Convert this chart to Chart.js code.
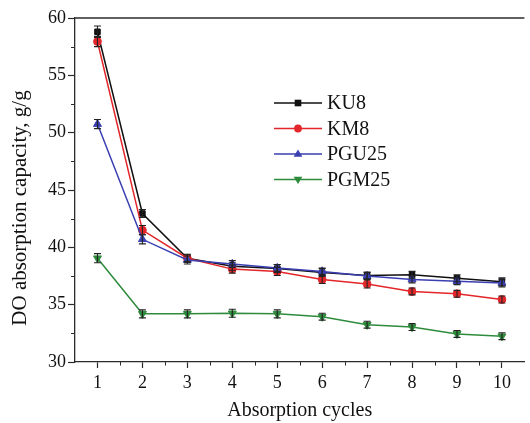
<!DOCTYPE html>
<html>
<head>
<meta charset="utf-8">
<script src="https://cdn.jsdelivr.net/npm/chart.js@4/dist/chart.umd.min.js"></script>
<style>
  html, body { margin: 0; padding: 0; background: #ffffff; }
  #wrap { width: 530px; height: 423px; }
</style>
</head>
<body>
<div id="wrap"><canvas id="c" width="530" height="423"></canvas></div>
<script>
// ---- data ----
const cycles = [1, 2, 3, 4, 5, 6, 7, 8, 9, 10];
const seriesNames = ["KU8", "KM8", "PGU25", "PGM25"];
const ku8   = [58.8, 42.95, 39.05, 38.35, 38.15, 37.8, 37.55, 37.6, 37.3, 37.0];
const km8   = [57.95, 41.5, 39.05, 38.1, 37.9, 37.2, 36.8, 36.15, 35.95, 35.45];
const pgu25 = [50.75, 40.7, 38.9, 38.55, 38.2, 37.9, 37.5, 37.2, 37.05, 36.9];
const pgm25 = [39.05, 34.2, 34.2, 34.25, 34.2, 33.95, 33.25, 33.05, 32.45, 32.25];
const ku8Err   = [0.5, 0.35, 0.3, 0.35, 0.35, 0.35, 0.3, 0.3, 0.3, 0.35];
const km8Err   = [0.45, 0.4, 0.35, 0.35, 0.35, 0.35, 0.35, 0.3, 0.3, 0.3];
const pgu25Err = [0.4, 0.4, 0.35, 0.3, 0.3, 0.3, 0.3, 0.3, 0.3, 0.35];
const pgm25Err = [0.4, 0.35, 0.35, 0.35, 0.35, 0.3, 0.3, 0.3, 0.3, 0.3];
const xTickValues = [1, 2, 3, 4, 5, 6, 7, 8, 9, 10];
const xMinorValues = [1.5, 2.5, 3.5, 4.5, 5.5, 6.5, 7.5, 8.5, 9.5];
const yMinorValues = [32.5, 37.5, 42.5, 47.5, 52.5, 57.5];
const xTitle = "Absorption cycles";
const yTitle = "DO absorption capacity, g/g";

const SERIF = '"Liberation Serif", "Times New Roman", serif';
const AXIS_COLOR = '#2b2b2b';
const TEXT_COLOR = '#111111';

function pts(vals) { return cycles.map((c, i) => ({ x: c, y: vals[i] })); }

const styles = [
  { color: '#111111', pointStyle: 'rect', rotation: 0, radius: 3.9, order: 4 },
  { color: '#e3262a', pointStyle: 'circle', rotation: 0, radius: 3.9, order: 3 },
  { color: '#3a3fb2', pointStyle: 'triangle', rotation: 0, radius: 4.6, order: 2 },
  { color: '#2e8b3c', pointStyle: 'triangle', rotation: 180, radius: 4.6, order: 1 }
];
const values = [ku8, km8, pgu25, pgm25];
const errors = [ku8Err, km8Err, pgu25Err, pgm25Err];

const datasets = seriesNames.map((name, i) => ({
  label: name,
  data: pts(values[i]),
  borderColor: styles[i].color,
  backgroundColor: styles[i].color,
  pointBackgroundColor: styles[i].color,
  pointBorderColor: styles[i].color,
  pointStyle: styles[i].pointStyle,
  pointRotation: styles[i].rotation,
  pointRadius: styles[i].radius,
  pointBorderWidth: 1,
  borderWidth: 1.5,
  tension: 0,
  fill: false,
  order: styles[i].order,
  errorBars: errors[i]
}));

function drawMarker(ctx, style, x, y, r, color) {
  ctx.save();
  ctx.fillStyle = color;
  ctx.strokeStyle = color;
  ctx.beginPath();
  if (style === 'rect') {
    ctx.rect(x - r * 0.85, y - r * 0.85, r * 1.7, r * 1.7);
  } else if (style === 'circle') {
    ctx.arc(x, y, r, 0, Math.PI * 2);
  } else if (style === 'triangle-up') {
    ctx.moveTo(x, y - r);
    ctx.lineTo(x + r * 0.95, y + r * 0.6);
    ctx.lineTo(x - r * 0.95, y + r * 0.6);
    ctx.closePath();
  } else {
    ctx.moveTo(x, y + r);
    ctx.lineTo(x + r * 0.95, y - r * 0.6);
    ctx.lineTo(x - r * 0.95, y - r * 0.6);
    ctx.closePath();
  }
  ctx.fill();
  ctx.restore();
}

const errorBarPlugin = {
  id: 'errorBars',
  afterDatasetsDraw(chart) {
    const ctx = chart.ctx;
    const xs = chart.scales.x, ys = chart.scales.y;
    ctx.save();
    ctx.strokeStyle = '#222222';
    ctx.lineWidth = 1.1;
    chart.data.datasets.forEach((ds) => {
      ds.data.forEach((p, j) => {
        const e = ds.errorBars[j];
        const px = xs.getPixelForValue(p.x);
        const top = ys.getPixelForValue(p.y + e);
        const bot = ys.getPixelForValue(p.y - e);
        ctx.beginPath();
        ctx.moveTo(px, top); ctx.lineTo(px, bot);
        ctx.moveTo(px - 3.5, top); ctx.lineTo(px + 3.5, top);
        ctx.moveTo(px - 3.5, bot); ctx.lineTo(px + 3.5, bot);
        ctx.stroke();
      });
    });
    ctx.restore();
  }
};

const framePlugin = {
  id: 'frame',
  afterDraw(chart) {
    const ctx = chart.ctx;
    const a = chart.chartArea;
    const xs = chart.scales.x, ys = chart.scales.y;
    ctx.save();
    ctx.strokeStyle = AXIS_COLOR;
    ctx.lineWidth = 1.3;
    // top frame line
    ctx.beginPath();
    ctx.moveTo(a.left, a.top);
    ctx.lineTo(a.right, a.top);
    ctx.stroke();
    // minor ticks
    ctx.lineWidth = 1;
    ctx.beginPath();
    xMinorValues.forEach(v => {
      const px = Math.round(xs.getPixelForValue(v)) + 0.5;
      ctx.moveTo(px, a.bottom); ctx.lineTo(px, a.bottom + 3.5);
    });
    yMinorValues.forEach(v => {
      const py = Math.round(ys.getPixelForValue(v)) + 0.5;
      ctx.moveTo(a.left, py); ctx.lineTo(a.left - 4, py);
    });
    ctx.stroke();
    // y title
    ctx.fillStyle = TEXT_COLOR;
    ctx.font = '21px ' + SERIF;
    ctx.textAlign = 'center';
    ctx.textBaseline = 'middle';
    ctx.translate(20, 208);
    ctx.rotate(-Math.PI / 2);
    ctx.fillText(yTitle, 0, 0);
    ctx.restore();

    // legend
    ctx.save();
    const lx0 = 274, lx1 = 322, mx = 298, tx = 327;
    const ly = [103, 128.5, 154, 179.5];
    ctx.font = '20px ' + SERIF;
    ctx.textBaseline = 'middle';
    ctx.textAlign = 'left';
    chart.data.datasets.forEach((ds, i) => {
      const y = ly[i];
      ctx.strokeStyle = ds.borderColor;
      ctx.lineWidth = 1.5;
      ctx.beginPath();
      ctx.moveTo(lx0, y); ctx.lineTo(lx1, y);
      ctx.stroke();
      let st = ds.pointStyle;
      if (st === 'triangle') st = ds.pointRotation === 180 ? 'triangle-down' : 'triangle-up';
      drawMarker(ctx, st, mx, y, ds.pointRadius, ds.borderColor);
      ctx.fillStyle = TEXT_COLOR;
      ctx.fillText(ds.label, tx, y + 1);
    });
    ctx.restore();
  }
};

new Chart(document.getElementById('c'), {
  type: 'line',
  data: { datasets },
  options: {
    responsive: false,
    animation: false,
    devicePixelRatio: 1,
    layout: { padding: { top: 18, right: 0, left: 0, bottom: 0 } },
    plugins: { legend: { display: false }, tooltip: { enabled: false } },
    scales: {
      x: {
        type: 'linear',
        min: 0.5,
        max: 10.5,
        afterBuildTicks(scale) { scale.ticks = xTickValues.map(v => ({ value: v })); },
        afterFit(scale) { scale.height = 61; },
        grid: { display: true, drawOnChartArea: false, drawTicks: true, tickLength: 6, tickColor: AXIS_COLOR, tickWidth: 1.2 },
        border: { display: true, color: AXIS_COLOR, width: 1.3 },
        ticks: { font: { family: SERIF, size: 18 }, color: TEXT_COLOR, padding: 4, maxRotation: 0, autoSkip: false },
        title: { display: true, text: xTitle, font: { family: SERIF, size: 20 }, color: TEXT_COLOR, padding: { top: 0, bottom: 0 } }
      },
      y: {
        min: 30,
        max: 60,
        afterFit(scale) { scale.width = 75; },
        grid: { display: true, drawOnChartArea: false, drawTicks: true, tickLength: 7, tickColor: AXIS_COLOR, tickWidth: 1.2 },
        border: { display: true, color: AXIS_COLOR, width: 1.3 },
        ticks: { stepSize: 5, font: { family: SERIF, size: 18 }, color: TEXT_COLOR, padding: 2 }
      }
    }
  },
  plugins: [errorBarPlugin, framePlugin]
});
</script>
</body>
</html>
